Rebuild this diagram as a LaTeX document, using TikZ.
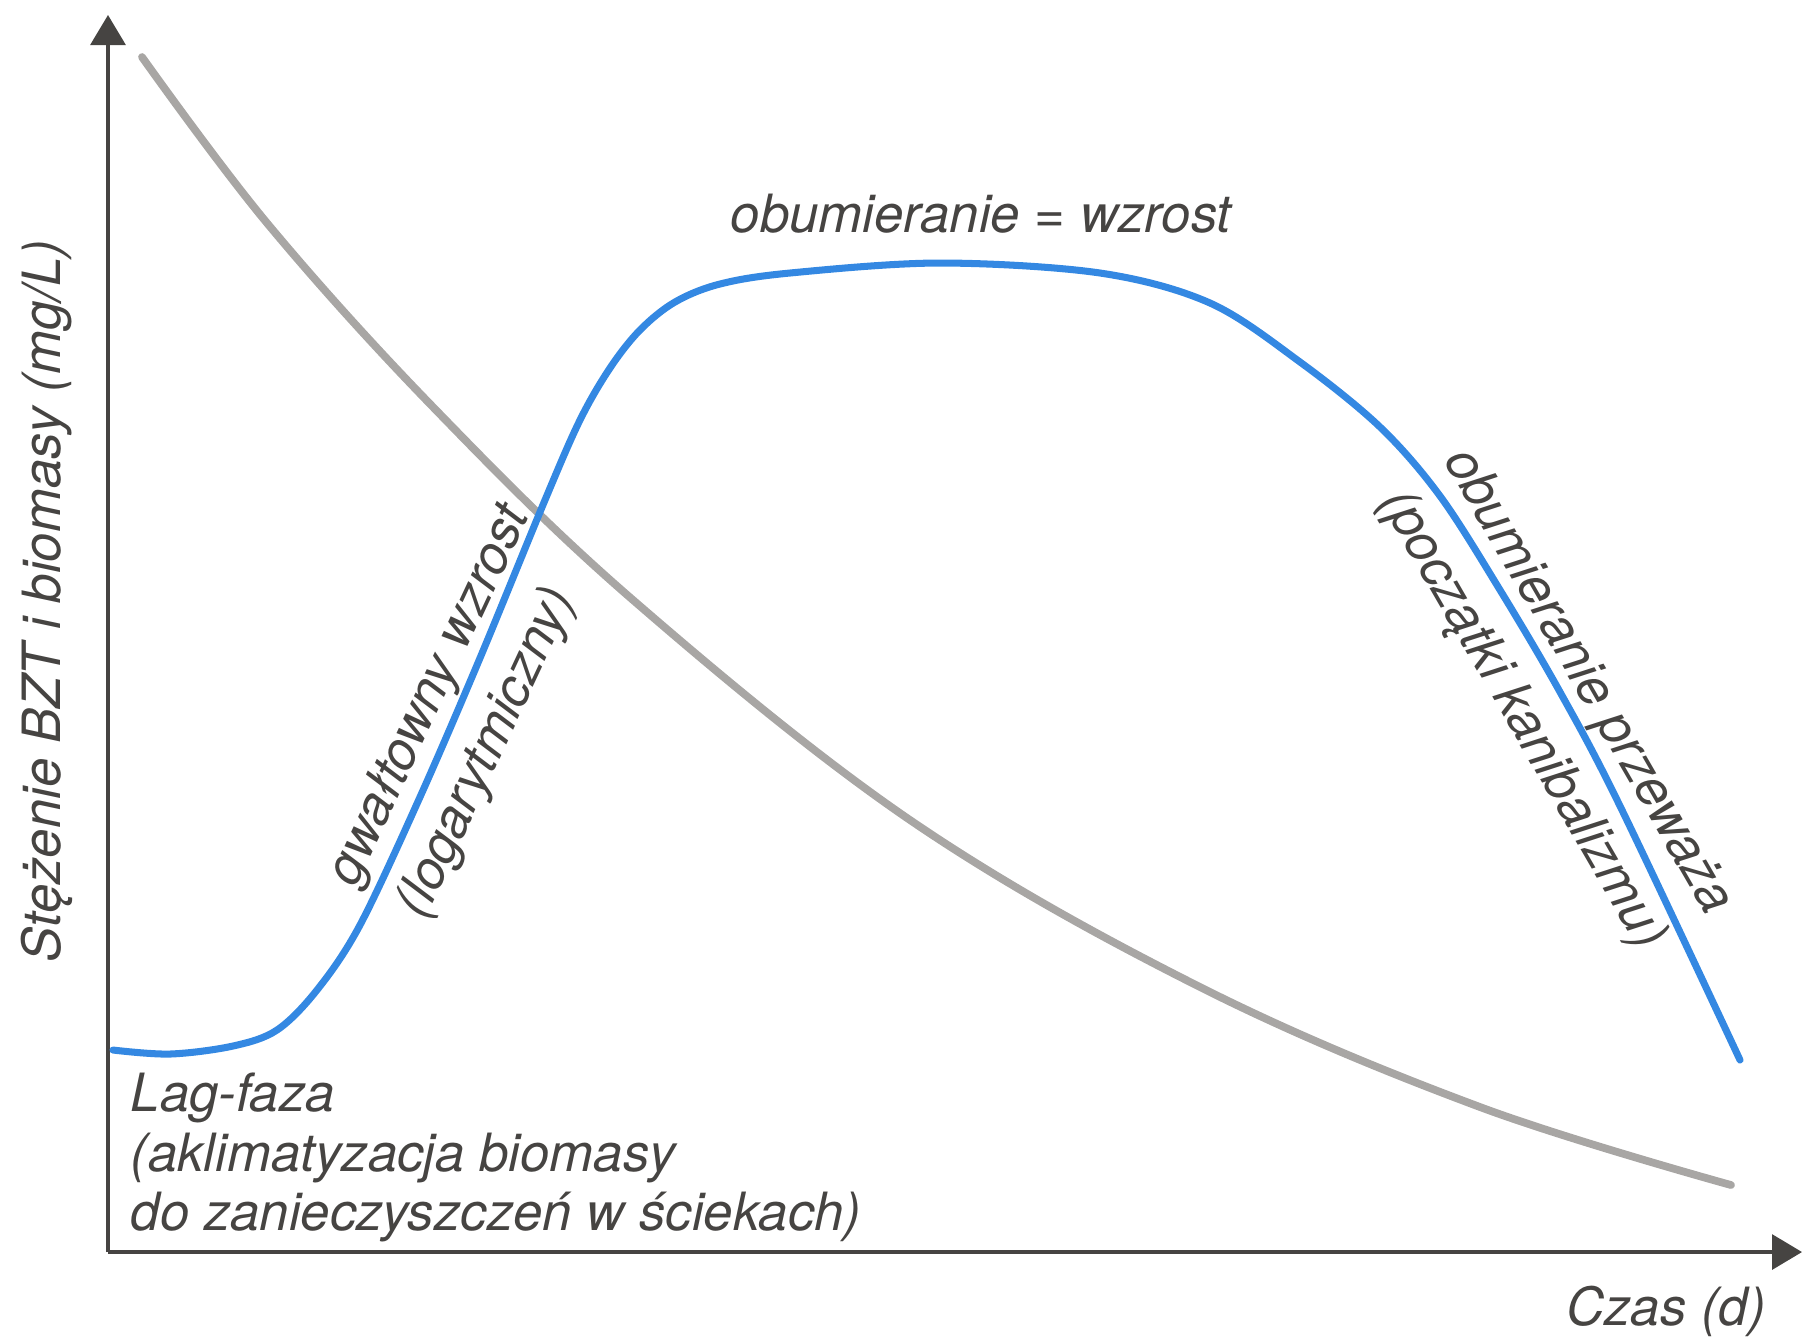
\documentclass[tikz,border=0pt]{standalone}
\usepackage{fontspec}
\setmainfont{TeX Gyre Heros}
\usepackage{tikz}
\usetikzlibrary{arrows.meta}
\definecolor{curveblue}{RGB}{52,136,226}
\definecolor{curvegray}{RGB}{168,166,164}
\definecolor{inkgray}{RGB}{70,68,66}
\tikzstyle{axis_line} = [draw=inkgray, line width=0.9pt, -{Triangle[length=0.3cm,width=0.35cm]}]
\tikzstyle{curve_bzt} = [draw=curvegray, line width=2.2pt, line cap=round]
\tikzstyle{curve_bio} = [draw=curveblue, line width=2pt, line cap=round]
\tikzstyle{label_text} = [text=inkgray, inner sep=0pt, font=\fontsize{15}{17}\selectfont\itshape]
\tikzstyle{label_wide} = [label_text, font=\fontsize{15}{21.6}\selectfont\itshape]

\begin{document}
\begin{tikzpicture}[x=0.01cm, y=-0.01cm]
\useasboundingbox (0,0) rectangle (1804,1338);
\coordinate (O) at (108,1252);
\coordinate (Ytop) at (108,15);
\coordinate (Xend) at (1802,1252);

\draw[axis_line] (O) -- (Ytop);
\draw[axis_line] (O) -- (Xend);

% BZT
\draw[curve_bzt] plot[smooth, tension=0.6] coordinates {(142,57) (267,223) (433,407) (633,600) (910,820) (1200,987) (1480,1107) (1731,1185)};

% biomasa
\draw[curve_bio] plot[smooth, tension=0.55] coordinates {(113,1050) (170,1054) (233,1046) (277,1030) (317,990) (360,925) (420,797) (480,658) (545,500) (580,420) (610,368) (640,330) (675,302) (720,284) (790,273) (940,263) (1100,273) (1210,303) (1300,362) (1380,427) (1440,496) (1500,590) (1560,692) (1620,806) (1740,1060)};

\node (ylab) at (47,601) [label_text, rotate=90] {Stężenie BZT i biomasy (mg/L)};
\node (xlab) at (1666,1311) [label_text] {Czas (d)};
\node (lag) at (130,1072) [label_text, anchor=north west, align=left] {Lag-faza\\(aklimatyzacja biomasy\\do zanieczyszczeń w ściekach)};
\node (logphase) at (465,712) [label_wide, rotate=65, align=left] {gwałtowny wzrost\\(logarytmiczny)};
\node (plat) at (981,232) [label_text, anchor=base] {obumieranie = wzrost};
\node (death) at (1554,701) [label_wide, rotate=-60, align=center] {obumieranie przeważa\\(początki kanibalizmu)};
\end{tikzpicture}
\end{document}
